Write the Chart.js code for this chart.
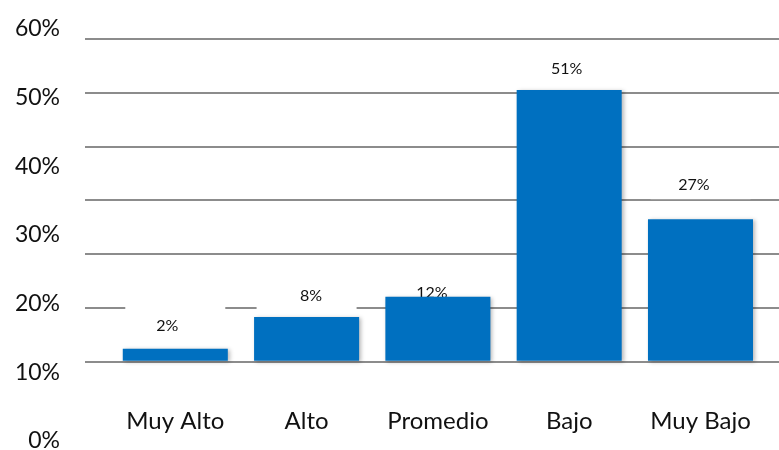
<!DOCTYPE html>
<html><head><meta charset="utf-8">
<script src="https://cdn.jsdelivr.net/npm/chart.js@4/dist/chart.umd.min.js"></script>
<style>html,body{margin:0;padding:0;background:#fff}</style>
</head><body>
<canvas id="c" width="779" height="450"></canvas>
<script>
const categories = ['Muy Alto', 'Alto', 'Promedio', 'Bajo', 'Muy Bajo'];
const values = [2.4, 8.3, 12.1, 50.5, 26.5];
const valueLabels = ['2%', '8%', '12%', '51%', '27%'];
const yTickValues = [0, 10, 20, 30, 40, 50, 60];
const yTickLabels = ['0%', '10%', '20%', '30%', '40%', '50%', '60%'];

const labelPlugin = {
  id: 'valueLabels',
  beforeDatasetsDraw(chart, args, opts) {
    const ctx = chart.ctx;
    const meta = chart.getDatasetMeta(0);
    ctx.save();
    ctx.font = '16px Lato';
    ctx.textAlign = 'center';
    ctx.textBaseline = 'middle';
    meta.data.forEach((bar, i) => {
      const n = opts.nudge[i] || [0, -22];
      const x = bar.x + n[0], y = bar.y + n[1];
      ctx.fillStyle = '#ffffff';
      ctx.fillRect(bar.x - 50, y - 20, 100, 34);
      ctx.fillStyle = '#111111';
      ctx.fillText(valueLabels[i], x, y);
    });
    ctx.restore();
    ctx.save();
    ctx.shadowColor = 'rgba(0,0,0,0.28)';
    ctx.shadowBlur = 4;
    ctx.shadowOffsetX = 2;
    ctx.shadowOffsetY = 1;
  },
  afterDatasetsDraw(chart) {
    chart.ctx.restore();
  }
};

new Chart(document.getElementById('c'), {
  type: 'bar',
  data: {
    datasets: [{
      data: values.map((v, i) => ({ x: i, y: v })),
      backgroundColor: '#0070C0',
      borderWidth: 0,
      barPercentage: 0.8,
      categoryPercentage: 1,
      xAxisID: 'x',
      yAxisID: 'y'
    }]
  },
  options: {
    responsive: false,
    devicePixelRatio: 1,
    animation: false,
    layout: { padding: { top: 29, bottom: 9, left: 0, right: 0 } },
    plugins: {
      legend: { display: false },
      tooltip: { enabled: false },
      valueLabels: { nudge: [[-8, -23], [4.5, -21], [-6, -4], [-2.5, -21], [-6.5, -34]] }
    },
    scales: {
      x: {
        type: 'linear',
        offset: false,
        min: -0.6877,
        max: 4.598,
        position: { y: -7.8 },
        grid: { display: false, drawTicks: false },
        border: { display: false },
        ticks: {
          font: { family: 'Lato', size: 24 },
          color: '#111111',
          padding: 3,
          autoSkip: false,
          maxRotation: 0,
          includeBounds: false,
          callback: (v) => categories[v]
        },
        afterBuildTicks: (s) => { s.ticks = categories.map((_, i) => ({ value: i })); },
        afterFit: (s) => { s.height = 0; }
      },
      y: {
        type: 'linear',
        min: -14.74,
        max: 61.86,
        position: 'left',
        grid: { color: '#8c8c8c', lineWidth: 2, drawTicks: false },
        border: { display: false },
        ticks: { display: false },
        afterBuildTicks: (s) => { s.ticks = yTickValues.map(v => ({ value: v })); }
      },
      yL: {
        type: 'linear',
        min: 0,
        max: 60,
        position: 'left',
        grid: { display: false, drawTicks: false },
        border: { display: false },
        ticks: {
          font: { family: 'Lato', size: 23, lineHeight: 0.8 },
          color: '#111111',
          padding: 25,
          callback: (v) => yTickLabels[yTickValues.indexOf(v)]
        },
        afterBuildTicks: (s) => { s.ticks = yTickValues.map(v => ({ value: v })); },
        afterFit: (s) => { s.width = 85; s.paddingTop = 0; s.paddingBottom = 0; }
      }
    }
  },
  plugins: [labelPlugin]
});
</script>
</body></html>
